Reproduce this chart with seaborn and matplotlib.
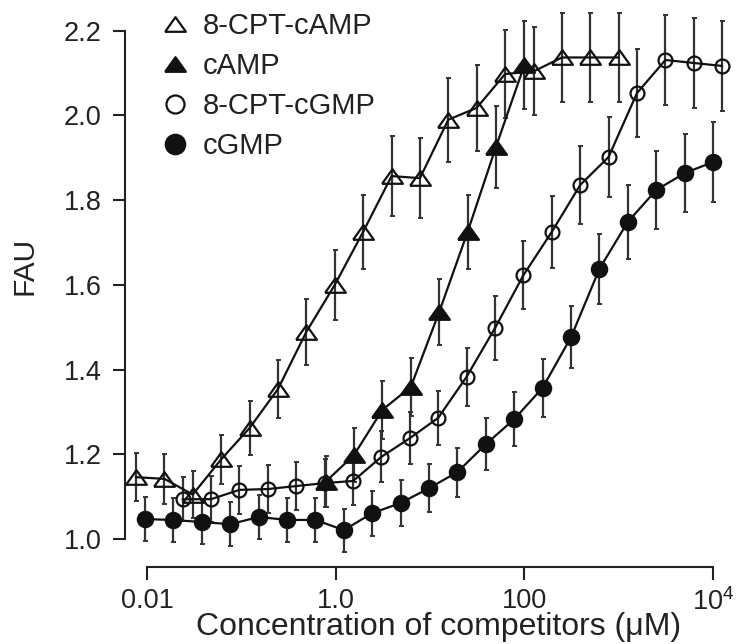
import matplotlib
matplotlib.use("Agg")
import numpy as np
import matplotlib.pyplot as plt
import seaborn as sns
from matplotlib.lines import Line2D

# Concentrations (uM), 2-fold dilution series
conc_cpt_camp = [0.0076, 0.0153, 0.0305, 0.061, 0.122, 0.244, 0.488, 0.977, 1.95,
                 3.91, 7.81, 15.6, 31.25, 62.5, 125, 250, 500, 1000]
conc_camp = [0.78, 1.56, 3.125, 6.25, 12.5, 25, 50, 100]
conc_cpt_cgmp = [0.0238, 0.0477, 0.0954, 0.191, 0.381, 0.763, 1.53, 3.05, 6.1, 12.2,
                 24.4, 48.8, 97.7, 195, 391, 781, 1563, 3125, 6250, 12500]
conc_cgmp = [0.0095, 0.019, 0.038, 0.076, 0.153, 0.305, 0.61, 1.22, 2.44, 4.88, 9.77,
             19.5, 39.1, 78.1, 156, 313, 625, 1250, 2500, 5000, 10000]

# FAU values
fau_cpt_camp = [1.146, 1.142, 1.105, 1.188, 1.262, 1.354, 1.489, 1.600, 1.725, 1.857,
                1.852, 1.990, 2.018, 2.098, 2.104, 2.137, 2.137, 2.137]
fau_camp = [1.135, 1.198, 1.305, 1.359, 1.536, 1.725, 1.926, 2.119]
fau_cpt_cgmp = [1.094, 1.094, 1.116, 1.118, 1.125, 1.132, 1.137, 1.194, 1.238, 1.286,
                1.383, 1.498, 1.623, 1.725, 1.836, 1.902, 2.053, 2.131, 2.124, 2.117]
fau_cgmp = [1.047, 1.045, 1.040, 1.035, 1.052, 1.045, 1.045, 1.021, 1.061, 1.085, 1.120,
            1.158, 1.224, 1.283, 1.357, 1.477, 1.638, 1.749, 1.824, 1.864, 1.890]

# error bars (half length)
err_cpt_camp = [0.057, 0.059, 0.055, 0.057, 0.064, 0.068, 0.078, 0.083, 0.087, 0.094,
                0.094, 0.099, 0.102, 0.104, 0.104, 0.106, 0.106, 0.106]
err_camp = [0.060, 0.063, 0.068, 0.068, 0.079, 0.087, 0.097, 0.104]
err_cpt_cgmp = [0.052, 0.054, 0.056, 0.056, 0.056, 0.057, 0.057, 0.060, 0.062, 0.064,
                0.069, 0.075, 0.081, 0.086, 0.092, 0.095, 0.103, 0.106, 0.106, 0.106]
err_cgmp = [0.052, 0.052, 0.052, 0.052, 0.053, 0.052, 0.052, 0.051, 0.053, 0.054, 0.056,
            0.058, 0.061, 0.064, 0.068, 0.074, 0.082, 0.087, 0.091, 0.093, 0.094]

labels = ["8-CPT-cAMP", "cAMP", "8-CPT-cGMP", "cGMP"]

sns.set_theme(style="ticks")
plt.rcParams["font.family"] = ["Liberation Sans", "DejaVu Sans"]
plt.rcParams["mathtext.default"] = "regular"

# wide, flat triangle like the original
tri = [(-1, -0.7), (1, -0.7), (0, 0.7), (-1, -0.7)]

series = [
    (conc_cpt_camp, fau_cpt_camp, err_cpt_camp, tri, "none", 15),
    (conc_camp, fau_camp, err_camp, tri, "#111111", 15),
    (conc_cpt_cgmp, fau_cpt_cgmp, err_cpt_cgmp, "o", "none", 10),
    (conc_cgmp, fau_cgmp, err_cgmp, "o", "#111111", 11),
]

fig = plt.figure(figsize=(7.43, 6.44), dpi=100)
ax = fig.add_axes([125 / 743, 1 - 567 / 644, 607 / 743, 559 / 644])

for x, y, e, m, fc, ms in series:
    ax.errorbar(x, y, yerr=e, fmt="none", ecolor="#333333", elinewidth=1.6,
                capsize=1.8, capthick=1.4, zorder=1)
    sns.lineplot(x=x, y=y, ax=ax, color="#111111", linewidth=1.6, marker=m,
                 markersize=ms, markerfacecolor=fc, markeredgecolor="#111111",
                 markeredgewidth=1.6, estimator=None, sort=False, zorder=3)

ax.set_xscale("log")
ax.set_xlim(10 ** -2.2337, 10 ** 4.201)
ax.set_ylim(0.9339, 2.2538)
ax.set_xticks([0.01, 1, 100, 1e4])
ax.set_xticklabels(["0.01", "1.0", "100", "$10^4$"])
ax.xaxis.set_minor_locator(matplotlib.ticker.NullLocator())
ax.set_yticks([1.0, 1.2, 1.4, 1.6, 1.8, 2.0, 2.2])
ax.set_yticklabels(["1.0", "1.2", "1.4", "1.6", "1.8", "2.0", "2.2"])
ax.tick_params(axis="both", labelsize=19.5, length=9, width=1.5, color="#222222",
               labelcolor="#222222", pad=6)
ax.tick_params(axis="y", pad=8)

for side in ["top", "right"]:
    ax.spines[side].set_visible(False)
for side in ["left", "bottom"]:
    ax.spines[side].set_linewidth(1.5)
    ax.spines[side].set_color("#222222")
ax.spines["left"].set_bounds(1.0, 2.2)
ax.spines["bottom"].set_bounds(0.01, 1e4)

ax.set_xlabel("Concentration of competitors (μM)", fontsize=23, color="#222222")
ax.set_ylabel("FAU", fontsize=21.5, color="#222222")
ax.xaxis.set_label_coords(0.517, -0.081)
ax.yaxis.set_label_coords(-0.142, 0.538)

handles = []
for x, y, e, m, fc, ms in series:
    handles.append(Line2D([], [], linestyle="none", marker=m, markersize=ms + 3 if m == "o" else ms,
                          markerfacecolor=fc, markeredgecolor="#111111", markeredgewidth=1.6))
ax.legend(handles, labels, loc="upper left", bbox_to_anchor=(163 / 743, 0.9806),
          bbox_transform=fig.transFigure, frameon=False, fontsize=21, borderpad=0,
          borderaxespad=0, handlelength=0.82, handletextpad=0.55, labelspacing=0.41,
          labelcolor="#222222")

fig.savefig("out.png", dpi=100)
